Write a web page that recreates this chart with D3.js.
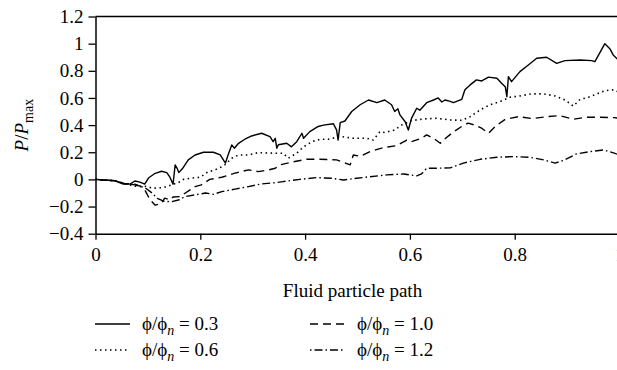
<!DOCTYPE html>
<html><head><meta charset="utf-8">
<script src="https://cdn.jsdelivr.net/npm/d3@7"></script>
<style>
html,body{margin:0;padding:0;background:#fff;}
svg text{font-family:"Liberation Serif","DejaVu Serif",serif;fill:#000;}
</style></head>
<body><svg id="c" width="617" height="370" font-family="Liberation Serif, DejaVu Serif, serif"></svg>
<script>
const xTicks = [0, 0.2, 0.4, 0.6, 0.8, 1];
const xTickLabels = ["0", "0.2", "0.4", "0.6", "0.8", "1"];
const yTicks = [1.2, 1, 0.8, 0.6, 0.4, 0.2, 0, -0.2, -0.4];
const yTickLabels = ["1.2", "1", "0.8", "0.6", "0.4", "0.2", "0", "\u22120.2", "\u22120.4"];
const seriesNames = ["0.3", "0.6", "1.0", "1.2"];

const s03x = [0,0.037,0.053,0.066,0.075,0.085,0.094,0.101,0.114,0.126,0.136,0.142,0.148,0.152,0.156,0.159,0.166,0.177,0.19,0.206,0.225,0.238,0.248,0.253,0.26,0.265,0.273,0.285,0.298,0.317,0.333,0.339,0.343,0.346,0.349,0.365,0.374,0.384,0.394,0.397,0.409,0.425,0.435,0.454,0.46,0.463,0.467,0.476,0.489,0.505,0.521,0.537,0.552,0.565,0.571,0.577,0.581,0.591,0.597,0.603,0.613,0.619,0.632,0.645,0.654,0.661,0.667,0.677,0.683,0.699,0.705,0.715,0.727,0.737,0.75,0.766,0.775,0.782,0.785,0.788,0.794,0.81,0.826,0.842,0.861,0.88,0.896,0.925,0.947,0.953,0.96,0.972,0.982,0.988,0.995,1.0];
const s03y = [0,-0.01,-0.035,-0.035,-0.012,-0.02,-0.035,0.01,0.045,0.06,0.05,0.016,-0.035,0.107,0.08,0.05,0.08,0.144,0.18,0.2,0.2,0.18,0.12,0.18,0.254,0.23,0.266,0.296,0.32,0.34,0.315,0.278,0.303,0.23,0.255,0.266,0.24,0.278,0.34,0.303,0.352,0.39,0.40,0.41,0.365,0.29,0.418,0.43,0.5,0.55,0.585,0.565,0.585,0.55,0.5,0.52,0.475,0.425,0.364,0.45,0.524,0.51,0.565,0.585,0.6,0.57,0.585,0.575,0.565,0.59,0.66,0.696,0.733,0.725,0.753,0.745,0.709,0.683,0.61,0.757,0.72,0.794,0.843,0.892,0.9,0.855,0.875,0.88,0.875,0.867,0.915,1.0,0.96,0.917,0.89,0.87];

const s06x = [0,0.037,0.055,0.075,0.094,0.11,0.13,0.145,0.16,0.168,0.183,0.2,0.215,0.225,0.245,0.26,0.273,0.292,0.31,0.343,0.358,0.368,0.384,0.397,0.413,0.429,0.444,0.46,0.47,0.492,0.518,0.53,0.543,0.552,0.571,0.584,0.603,0.625,0.651,0.677,0.699,0.715,0.734,0.753,0.772,0.791,0.81,0.832,0.855,0.877,0.896,0.912,0.925,0.941,0.957,0.972,0.99,1.0];
const s06y = [0,-0.01,-0.03,-0.05,-0.05,-0.065,-0.06,-0.04,-0.02,0.0,0.01,0.016,0.057,0.065,0.1,0.156,0.18,0.18,0.197,0.193,0.193,0.156,0.193,0.24,0.278,0.296,0.296,0.31,0.315,0.303,0.303,0.29,0.352,0.345,0.364,0.40,0.433,0.445,0.45,0.438,0.435,0.462,0.512,0.55,0.573,0.605,0.615,0.63,0.63,0.615,0.585,0.54,0.59,0.605,0.63,0.654,0.66,0.64];

const s10x = [0,0.037,0.055,0.075,0.085,0.094,0.104,0.114,0.126,0.132,0.142,0.148,0.161,0.19,0.202,0.218,0.241,0.266,0.292,0.311,0.33,0.343,0.352,0.378,0.403,0.428,0.46,0.486,0.492,0.505,0.524,0.549,0.575,0.594,0.603,0.622,0.632,0.645,0.658,0.667,0.683,0.699,0.711,0.724,0.737,0.75,0.763,0.782,0.807,0.833,0.861,0.886,0.912,0.937,0.963,0.99,1.0];
const s10y = [0,-0.01,-0.03,-0.035,-0.05,-0.077,-0.15,-0.19,-0.177,-0.138,-0.15,-0.13,-0.127,-0.053,-0.04,0.0,0.016,0.046,0.07,0.057,0.07,0.082,0.107,0.13,0.148,0.148,0.144,0.107,0.18,0.17,0.205,0.234,0.249,0.29,0.278,0.303,0.328,0.303,0.266,0.30,0.35,0.39,0.414,0.40,0.377,0.34,0.39,0.443,0.462,0.448,0.462,0.47,0.443,0.458,0.458,0.455,0.45];

const s12x = [0,0.037,0.055,0.075,0.094,0.108,0.118,0.13,0.145,0.16,0.17,0.19,0.21,0.225,0.241,0.266,0.292,0.317,0.343,0.358,0.39,0.422,0.451,0.473,0.498,0.524,0.556,0.588,0.613,0.622,0.632,0.651,0.677,0.702,0.734,0.766,0.797,0.829,0.855,0.877,0.893,0.918,0.944,0.97,0.99,1.0];
const s12y = [0,-0.01,-0.03,-0.04,-0.06,-0.1,-0.14,-0.16,-0.165,-0.15,-0.127,-0.114,-0.1,-0.11,-0.09,-0.072,-0.053,-0.033,-0.024,-0.016,0.0,0.013,0.008,-0.004,0.008,0.02,0.033,0.04,0.026,0.04,0.082,0.082,0.085,0.12,0.148,0.163,0.168,0.163,0.144,0.12,0.14,0.188,0.205,0.217,0.193,0.18];

const seriesX = [s03x, s06x, s10x, s12x];
const seriesY = [s03y, s06y, s10y, s12y];
const dashes = [null, "1.5,3.5", "8,5", "1.5,3,8,3"];

const FONT = '"Liberation Serif", "DejaVu Serif", serif';
const svg = d3.select("#c");
const x = d3.scaleLinear().domain([0, 1]).range([95.5, 619.5]);
const y = d3.scaleLinear().domain([-0.4, 1.2]).range([233.7, 16.5]);
const FS = 19;

// lines
const line = d3.line().x(d => x(d[0])).y(d => y(d[1]));
seriesX.forEach((xs, i) => {
  const pts = xs.map((v, j) => [v, seriesY[i][j]]);
  svg.append("path").datum(pts)
    .attr("d", line).attr("fill", "none").attr("stroke", "#000")
    .attr("stroke-width", i === 1 ? 1.6 : 1.4)
    .attr("stroke-linejoin", "round")
    .attr("stroke-dasharray", dashes[i]);
});

// frame (top and right)
svg.append("line").attr("x1", x(0)).attr("x2", x(1)).attr("y1", y(1.2)).attr("y2", y(1.2))
  .attr("stroke", "#000").attr("stroke-width", 1.5);
svg.append("line").attr("x1", x(1)).attr("x2", x(1)).attr("y1", y(1.2)).attr("y2", y(-0.4))
  .attr("stroke", "#000").attr("stroke-width", 1.5);

// axes
const xAxis = d3.axisBottom(x).tickValues(xTicks).tickFormat((d, i) => xTickLabels[i]).tickSizeInner(6).tickSizeOuter(0).tickPadding(8);
const gx = svg.append("g").attr("transform", `translate(0,${y(-0.4)})`).call(xAxis);
const yAxis = d3.axisLeft(y).tickValues(yTicks).tickFormat((d, i) => yTickLabels[i]).tickSizeInner(7).tickSizeOuter(0).tickPadding(5);
const gy = svg.append("g").attr("transform", `translate(${x(0)},0)`).call(yAxis);
[gx, gy].forEach(g => {
  g.attr("font-family", FONT).attr("font-size", FS);
  g.select(".domain").attr("stroke", "#000").attr("stroke-width", 1.5);
  g.selectAll(".tick line").attr("stroke", "#000").attr("stroke-width", 1.3);
  g.selectAll(".tick text").style("font-family", FONT).style("font-size", FS + "px").attr("fill", "#000");
});

// axis titles
svg.append("text").attr("x", (x(0) + 619.5) / 2 - 5).attr("y", 297).attr("text-anchor", "middle")
  .style("font-family", FONT).style("font-size", FS + "px").text("Fluid particle path");
const yl = svg.append("text").attr("transform", `translate(28,${(y(1.2) + y(-0.4)) / 2}) rotate(-90)`)
  .attr("text-anchor", "middle").style("font-family", FONT).style("font-size", FS + "px");
yl.append("tspan").style("font-style", "italic").text("P");
yl.append("tspan").text("/");
yl.append("tspan").style("font-style", "italic").text("P");
yl.append("tspan").attr("dy", 5).style("font-size", "14px").text("max");

// legend
const legX = [95, 310];
const legY = [324, 350];
seriesNames.forEach((name, i) => {
  const col = i === 0 || i === 1 ? 0 : 1;
  const row = i === 0 || i === 2 ? 0 : 1;
  const lx = legX[col], ly = legY[row];
  svg.append("line").attr("x1", lx).attr("x2", lx + 35).attr("y1", ly).attr("y2", ly)
    .attr("stroke", "#000").attr("stroke-width", i === 1 ? 1.6 : 1.4).attr("stroke-dasharray", dashes[i]);
  const t = svg.append("text").attr("x", lx + 47).attr("y", ly + 6)
    .style("font-family", FONT).style("font-size", FS + "px");
  t.append("tspan").text("\u03D5/\u03D5");
  t.append("tspan").attr("dy", 5).style("font-style", "italic").style("font-size", "14px").text("n");
  t.append("tspan").attr("dy", -5).text(" = " + name);
});
</script></body></html>
